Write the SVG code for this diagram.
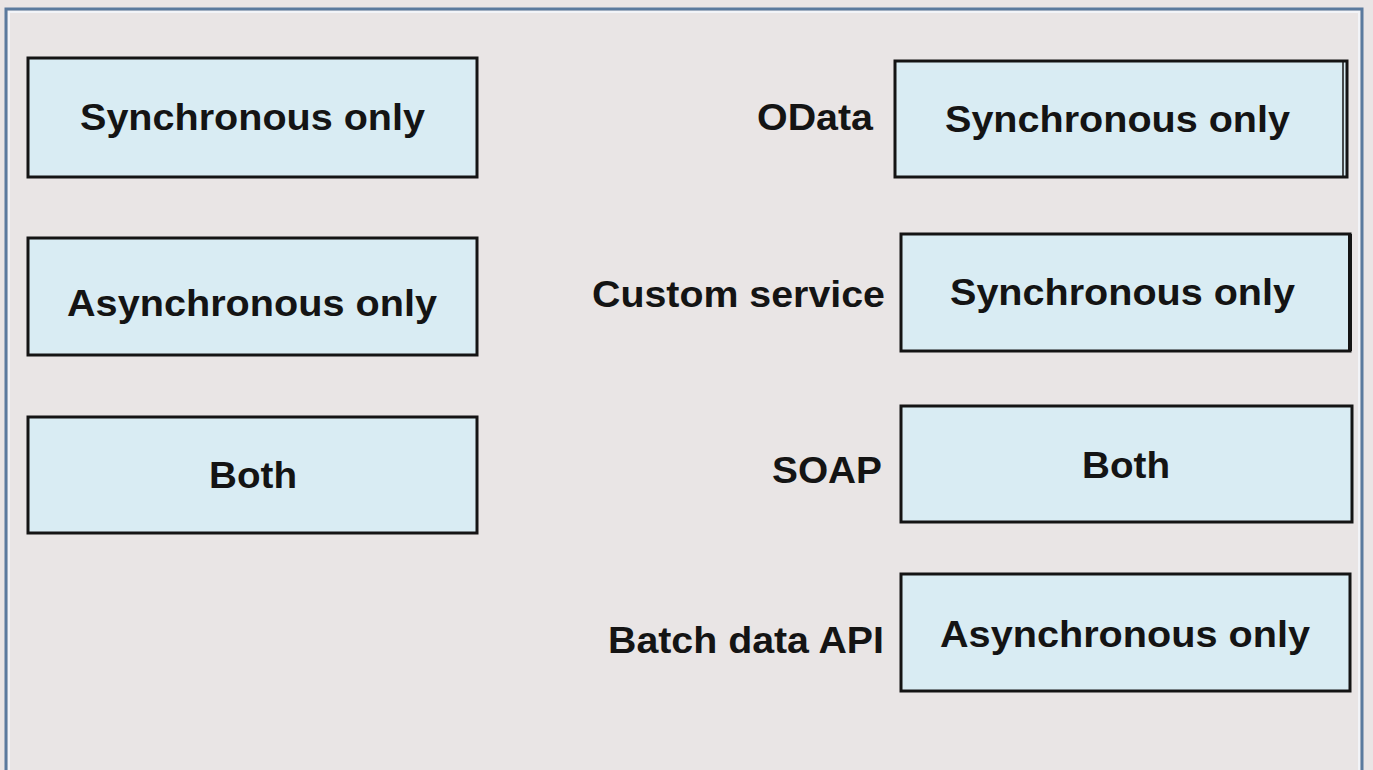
<svg xmlns="http://www.w3.org/2000/svg" width="1373" height="770" viewBox="0 0 1373 770">
<style>
.box{fill:#d9ecf3;stroke:#141414;stroke-width:3}
.t{font-family:"Liberation Sans",Arial,sans-serif;font-weight:bold;font-size:36px;fill:#141414}
.c{text-anchor:start}
</style>
<rect x="0" y="0" width="1373" height="770" fill="#e9e5e5"/>
<path d="M6 770 V9 H1362 V770" fill="none" stroke="#5a7a9e" stroke-width="3"/>
<path d="M9 770 V12 H1359 V770" fill="none" stroke="#f2f4f8" stroke-width="2"/>
<g id="left-sync"><rect class="box" x="28" y="58" width="449" height="119"/><text class="t" x="80" y="130" textLength="345" lengthAdjust="spacingAndGlyphs">Synchronous only</text></g>
<g id="left-async"><rect class="box" x="28" y="238" width="449" height="117"/><text class="t" x="67" y="316" textLength="370" lengthAdjust="spacingAndGlyphs">Asynchronous only</text></g>
<g id="left-both"><rect class="box" x="28" y="417" width="449" height="116"/><text class="t" x="209" y="488" textLength="88" lengthAdjust="spacingAndGlyphs">Both</text></g>
<g id="odata"><text class="t" x="757" y="130" textLength="116" lengthAdjust="spacingAndGlyphs">OData</text><rect class="box" x="895" y="61" width="452" height="116"/><line x1="1343" y1="62" x2="1343" y2="176" stroke="#141414" stroke-width="1.5"/><text class="t" x="945" y="132" textLength="345" lengthAdjust="spacingAndGlyphs">Synchronous only</text></g>
<g id="custom"><text class="t" x="592" y="307" textLength="293" lengthAdjust="spacingAndGlyphs">Custom service</text><rect class="box" x="901" y="234" width="449" height="117"/><line x1="1350" y1="234" x2="1350" y2="351" stroke="#141414" stroke-width="4"/><text class="t" x="950" y="305" textLength="345" lengthAdjust="spacingAndGlyphs">Synchronous only</text></g>
<g id="soap"><text class="t" x="772" y="483" textLength="110" lengthAdjust="spacingAndGlyphs">SOAP</text><rect class="box" x="901" y="406" width="451" height="116"/><text class="t" x="1082" y="478" textLength="88" lengthAdjust="spacingAndGlyphs">Both</text></g>
<g id="batch"><text class="t" x="608" y="653" textLength="276" lengthAdjust="spacingAndGlyphs">Batch data API</text><rect class="box" x="901" y="574" width="449" height="117"/><text class="t" x="940" y="647" textLength="370" lengthAdjust="spacingAndGlyphs">Asynchronous only</text></g>
<g id="connectors"></g>
</svg>
